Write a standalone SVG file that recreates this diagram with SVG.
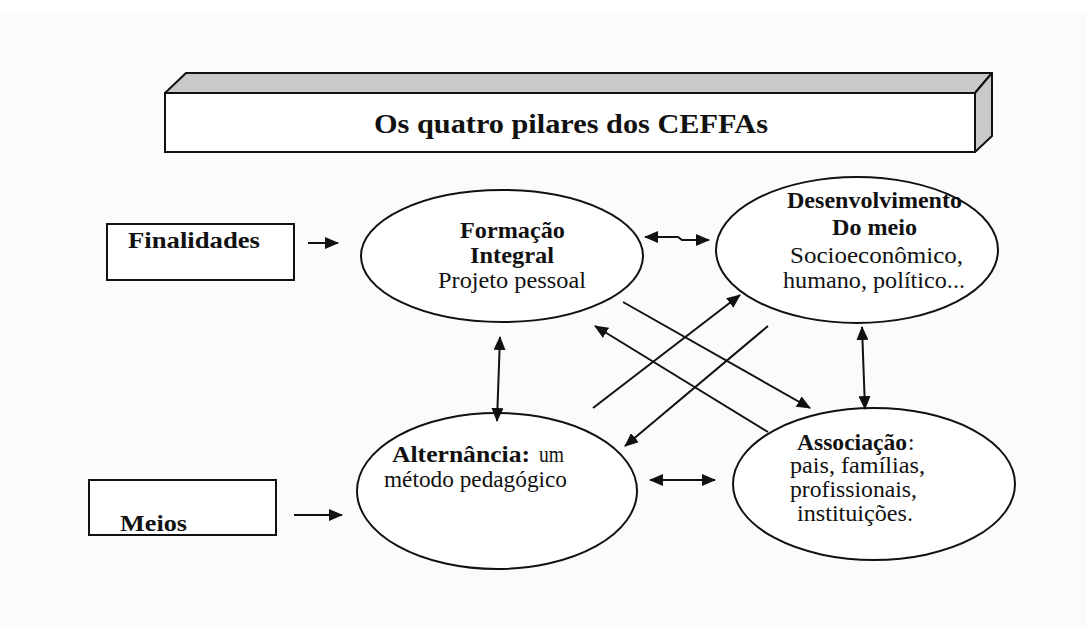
<svg xmlns="http://www.w3.org/2000/svg" width="1086" height="628" viewBox="0 0 1086 628">
<defs>
<style>
.bg{fill:#fbfbfb}
.node{fill:#ffffff;stroke:#111;stroke-width:2}
.face{fill:#c9c9c9;stroke:#111;stroke-width:2;stroke-linejoin:round}
.t{font-family:"Liberation Serif","Times New Roman",serif;font-size:23px;fill:#111}
.b{font-weight:bold}
.lbl{font-family:"Liberation Serif","Times New Roman",serif;font-size:24px;font-weight:bold;fill:#111}
.title{font-family:"Liberation Serif","Times New Roman",serif;font-size:28px;font-weight:bold;fill:#111}
.c{fill:none;stroke:#111;stroke-width:2}
</style>
<marker id="ah" markerUnits="userSpaceOnUse" markerWidth="14" markerHeight="12" viewBox="0 0 14 12" refX="13" refY="6" orient="auto-start-reverse">
<path d="M0,0 L14,6 L0,12 z" fill="#111"/>
</marker>
</defs>
<rect class="bg" x="0" y="0" width="1086" height="628"/>
<rect x="0" y="0" width="1086" height="11" fill="#ffffff"/>

<g id="title-bar">
<polygon class="face" points="165,93 186,73 992,73 975,93"/>
<polygon class="face" points="975,93 992,73 992,136 975,152"/>
<rect class="node" x="165" y="93" width="810" height="59"/>
<text class="title" x="374" y="133" textLength="394" lengthAdjust="spacingAndGlyphs">Os quatro pilares dos CEFFAs</text>
</g>

<g id="finalidades">
<rect class="node" x="107" y="224" width="187" height="56"/>
<text class="lbl" x="128" y="248" textLength="132" lengthAdjust="spacingAndGlyphs">Finalidades</text>
</g>

<g id="meios">
<rect class="node" x="89" y="480" width="187" height="55"/>
<text class="lbl" x="120" y="531" textLength="67" lengthAdjust="spacingAndGlyphs">Meios</text>
</g>

<g id="formacao">
<ellipse class="node" cx="502" cy="256" rx="141" ry="66"/>
<text class="t b" x="460" y="238" textLength="105" lengthAdjust="spacingAndGlyphs">Formação</text>
<text class="t b" x="470" y="263" textLength="84" lengthAdjust="spacingAndGlyphs">Integral</text>
<text class="t" x="438" y="288" textLength="148" lengthAdjust="spacingAndGlyphs">Projeto pessoal</text>
</g>

<g id="desenvolvimento">
<ellipse class="node" cx="857" cy="250" rx="141" ry="73"/>
<text class="t b" x="787" y="208" textLength="175" lengthAdjust="spacingAndGlyphs">Desenvolvimento</text>
<text class="t b" x="832" y="235" textLength="85" lengthAdjust="spacingAndGlyphs">Do meio</text>
<text class="t" x="790" y="263" textLength="173" lengthAdjust="spacingAndGlyphs">Socioeconômico,</text>
<text class="t" x="783" y="288" textLength="182" lengthAdjust="spacingAndGlyphs">humano, político...</text>
</g>

<g id="alternancia">
<ellipse class="node" cx="497" cy="491" rx="140" ry="78"/>
<text class="t b" x="392" y="462" textLength="138" lengthAdjust="spacingAndGlyphs">Alternância:</text>
<text class="t" x="539" y="462" textLength="25" lengthAdjust="spacingAndGlyphs">um</text>
<text class="t" x="384" y="487" textLength="183" lengthAdjust="spacingAndGlyphs">método pedagógico</text>
</g>

<g id="associacao">
<ellipse class="node" cx="874" cy="484" rx="141" ry="76"/>
<text class="t b" x="797" y="450" textLength="110" lengthAdjust="spacingAndGlyphs">Associação</text>
<text class="t" x="908" y="450">:</text>
<text class="t" x="790" y="473" textLength="135" lengthAdjust="spacingAndGlyphs">pais, famílias,</text>
<text class="t" x="790" y="497" textLength="127" lengthAdjust="spacingAndGlyphs">profissionais,</text>
<text class="t" x="797" y="521" textLength="116" lengthAdjust="spacingAndGlyphs">instituições.</text>
</g>

<g id="connectors">
<line class="c" x1="308" y1="243" x2="338" y2="243" marker-end="url(#ah)"/>
<line class="c" x1="294" y1="515" x2="342" y2="515" marker-end="url(#ah)"/>
<polyline class="c" points="645,237 678,237 682,240 709,240" marker-start="url(#ah)" marker-end="url(#ah)"/>
<line class="c" x1="650" y1="480" x2="715" y2="480" marker-start="url(#ah)" marker-end="url(#ah)"/>
<line class="c" x1="500" y1="337" x2="497" y2="421" marker-start="url(#ah)" marker-end="url(#ah)"/>
<line class="c" x1="862" y1="327" x2="865" y2="409" marker-start="url(#ah)" marker-end="url(#ah)"/>
<line class="c" x1="623" y1="302" x2="810" y2="408" marker-end="url(#ah)"/>
<line class="c" x1="593" y1="408" x2="740" y2="295" marker-end="url(#ah)"/>
<line class="c" x1="768" y1="326" x2="625" y2="446" marker-end="url(#ah)"/>
<line class="c" x1="768" y1="432" x2="595" y2="326" marker-end="url(#ah)"/>
</g>
</svg>
